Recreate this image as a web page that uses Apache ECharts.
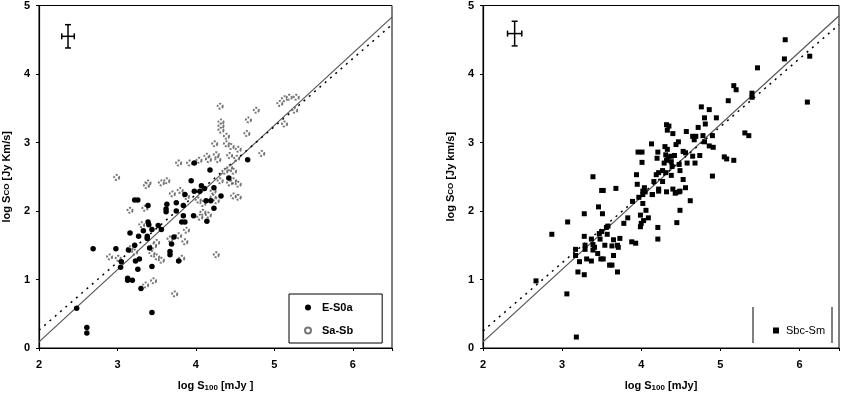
<!DOCTYPE html>
<html><head><meta charset="utf-8">
<script src="https://cdn.jsdelivr.net/npm/echarts@6/dist/echarts.min.js"></script>
<style>html,body{margin:0;padding:0;background:#fff}#c{width:844px;height:397px}</style>
</head><body><div id="c"></div>
<script>
// ---- data ----
const xTicks = [2, 3, 4, 5, 6];
const yTicks = [0, 1, 2, 3, 4, 5];
const eS0a = [[2.61,0.30],[2.61,0.22],[2.48,0.58],[2.69,1.45],[2.98,1.45],[3.05,1.26],[3.04,1.18],[3.14,1.43],[3.16,1.68],[3.22,2.16],[3.26,2.16],[3.13,1.02],[3.13,0.99],[3.19,0.99],[3.22,1.50],[3.23,1.27],[3.26,1.15],[3.28,1.30],[3.27,1.63],[3.30,0.87],[3.33,1.71],[3.39,2.08],[3.39,1.84],[3.40,1.80],[3.38,1.63],[3.38,1.60],[3.41,1.46],[3.44,1.73],[3.44,1.19],[3.44,0.52],[3.52,1.79],[3.56,1.73],[3.63,2.10],[3.62,2.03],[3.62,1.99],[3.67,1.41],[3.67,1.36],[3.69,1.52],[3.72,1.62],[3.75,2.00],[3.75,2.12],[3.78,1.27],[3.82,1.84],[3.84,2.08],[3.86,2.24],[3.86,1.84],[3.84,1.93],[3.97,1.93],[4.13,2.15],[4.19,2.15],[4.14,1.85],[4.23,2.04],[4.32,2.22],[3.98,2.29],[4.05,2.29],[4.66,2.75],[3.98,2.70],[4.18,2.60],[3.94,2.44],[4.07,2.37],[4.11,2.33],[4.42,2.48],[4.23,2.34]];
const saSb = [[4.31,3.53],[4.32,3.30],[4.32,3.24],[4.32,3.18],[4.39,3.09],[4.24,2.98],[4.39,2.98],[4.45,2.94],[4.54,2.90],[4.43,2.81],[4.52,2.77],[4.26,2.82],[4.28,2.75],[4.14,2.80],[4.16,2.75],[4.04,2.74],[3.92,2.70],[3.78,2.70],[4.65,3.13],[4.67,3.33],[4.77,3.47],[4.84,2.84],[5.07,3.57],[5.13,3.64],[5.19,3.66],[5.28,3.66],[5.26,3.47],[5.13,3.27],[2.99,2.49],[3.39,2.41],[3.37,2.37],[3.56,2.41],[3.63,2.44],[4.37,2.58],[4.43,2.63],[4.48,2.58],[4.43,2.41],[4.48,2.44],[4.54,2.39],[4.31,2.44],[4.22,2.29],[4.48,2.22],[4.54,2.20],[4.26,1.36],[3.73,0.79],[3.46,0.98],[3.36,0.92],[3.16,2.01],[3.35,2.04],[3.31,1.80],[3.16,1.45],[3.22,1.40],[2.90,1.33],[3.01,1.31],[3.50,1.54],[3.46,1.49],[3.44,1.38],[3.50,1.33],[3.56,1.28],[3.78,1.64],[3.86,1.55],[3.67,1.59],[3.82,1.31],[3.88,1.72],[4.05,1.91],[4.09,1.98],[4.16,1.94],[4.09,2.11],[4.03,2.16],[4.22,2.20],[4.26,2.15],[3.88,2.21],[3.80,2.30],[3.70,2.25]];
const sbcSm = [[5.82,4.50],[5.81,4.22],[6.13,4.26],[6.10,3.59],[5.47,4.09],[5.40,3.72],[5.40,3.66],[5.17,3.83],[5.20,3.77],[5.10,3.61],[4.95,3.36],[4.76,3.52],[4.86,3.48],[4.80,3.36],[4.81,3.27],[4.72,3.22],[4.57,3.16],[4.32,3.26],[4.35,3.24],[4.33,3.18],[4.40,3.13],[4.47,3.01],[4.44,2.97],[4.65,3.09],[4.67,3.04],[4.69,3.09],[4.78,3.10],[4.90,3.10],[4.80,3.01],[4.86,2.95],[4.91,2.93],[4.90,2.51],[5.31,3.14],[5.36,3.10],[5.05,2.79],[5.08,2.76],[5.17,2.74],[4.13,2.98],[3.96,2.86],[4.01,2.86],[4.01,2.71],[3.94,2.53],[3.95,2.39],[4.04,2.34],[4.02,2.29],[4.05,2.28],[4.14,2.24],[4.21,2.86],[4.20,2.77],[4.30,2.94],[4.33,2.90],[4.31,2.82],[4.34,2.79],[4.32,2.74],[4.29,2.70],[4.38,2.80],[4.42,2.81],[4.38,2.72],[4.39,2.65],[4.53,2.87],[4.56,2.85],[4.58,2.70],[4.48,2.68],[4.49,2.59],[4.68,2.70],[4.65,2.80],[4.74,2.81],[4.27,2.59],[4.31,2.56],[4.22,2.56],[4.19,2.53],[4.16,2.43],[4.27,2.43],[4.38,2.52],[4.53,2.46],[4.22,2.29],[4.40,2.32],[4.44,2.27],[4.49,2.29],[4.56,2.34],[3.39,2.50],[3.52,2.30],[3.68,2.33],[3.50,2.30],[3.46,2.06],[3.28,1.96],[3.51,1.96],[3.07,1.84],[2.87,1.66],[3.28,1.63],[3.37,1.59],[3.48,1.59],[3.47,1.67],[3.50,1.70],[3.56,1.76],[3.58,1.78],[3.57,1.66],[3.65,1.58],[3.73,1.60],[3.63,1.49],[3.70,1.50],[3.71,1.47],[3.54,1.50],[3.39,1.51],[3.41,1.47],[3.39,1.43],[3.29,1.50],[3.29,1.44],[3.17,1.44],[3.17,1.35],[3.22,1.26],[3.31,1.30],[3.37,1.27],[3.45,1.38],[3.49,1.30],[3.52,1.30],[3.65,1.35],[3.60,1.21],[3.63,1.21],[3.70,1.11],[3.20,1.11],[3.28,1.07],[2.67,0.98],[3.06,0.79],[3.18,0.16],[3.78,1.82],[3.83,1.90],[3.89,2.14],[3.88,1.55],[3.93,1.53],[3.99,1.94],[4.00,1.82],[3.99,1.77],[4.03,1.86],[4.06,2.01],[4.09,1.90],[4.02,2.11],[3.97,2.20],[4.02,2.24],[4.14,2.24],[4.22,2.32],[4.21,1.76],[4.21,1.59],[4.32,2.28],[4.43,2.26],[4.48,2.28],[4.49,2.01],[4.45,1.83],[4.62,2.15]];
const fitSolidLeft = [[2, 0.09], [6.5, 4.83]];
const fitDotLeft = [[2, 0.26], [6.5, 4.72]];
const fitSolidRight = [[2, 0.09], [6.5, 4.85]];
const fitDotRight = [[2, 0.25], [6.5, 4.72]];
const errLeft = [[2.37, 4.55, 0.08, 0.17]];
const errRight = [[2.40, 4.59, 0.09, 0.18]];

// ---- chart ----
const chart = echarts.init(document.getElementById('c'), null, {renderer: 'canvas'});
const FONT = 'Liberation Sans, Arial, sans-serif';
function xAx(gi, nameRich) {
  return {
    gridIndex: gi, type: 'value', min: 2, max: 6.5, interval: 1,
    splitLine: {show: false},
    axisLine: {show: true, onZero: false, lineStyle: {color: '#000', width: 1.2}},
    axisTick: {show: true, length: 3, lineStyle: {color: '#000'}},
    axisLabel: {color: '#000', fontFamily: FONT, fontWeight: 'bold', fontSize: 11, margin: 11,
      formatter: v => xTicks.includes(v) ? String(v) : ''},
    name: nameRich, nameLocation: 'middle', nameGap: 32,
    nameTextStyle: {color: '#000', fontFamily: FONT, fontWeight: 'bold', fontSize: 11,
      rich: {s: {fontSize: 8, fontWeight: 'bold', fontFamily: FONT, verticalAlign: 'bottom', padding: [4, 0, 0, 0]}}}
  };
}
function yAx(gi, nameRich) {
  return {
    gridIndex: gi, type: 'value', min: 0, max: 5, interval: 1,
    splitLine: {show: false},
    axisLine: {show: true, onZero: false, lineStyle: {color: '#000', width: 1.2}},
    axisTick: {show: true, length: 3, lineStyle: {color: '#000'}},
    axisLabel: {color: '#000', fontFamily: FONT, fontWeight: 'bold', fontSize: 11, margin: 9,
      formatter: v => yTicks.includes(v) ? String(v) : ''},
    name: nameRich, nameLocation: 'middle', nameGap: 27, nameRotate: 90,
    nameTextStyle: {color: '#000', fontFamily: FONT, fontWeight: 'bold', fontSize: 11,
      rich: {s: {fontSize: 8, fontWeight: 'bold', fontFamily: FONT}}}
  };
}
function errSeries(xi, data) {
  return {
    type: 'custom', xAxisIndex: xi, yAxisIndex: xi, data: data, silent: true,
    renderItem: function (params, api) {
      const x = api.value(0), y = api.value(1), dx = api.value(2), dy = api.value(3);
      const c = api.coord([x, y]);
      const l = api.coord([x - dx, y]), r = api.coord([x + dx, y]);
      const t = api.coord([x, y + dy]), b = api.coord([x, y - dy]);
      const st = {stroke: '#000', lineWidth: 1.5};
      const cap = 3;
      return {type: 'group', children: [
        {type: 'line', shape: {x1: l[0], y1: c[1], x2: r[0], y2: c[1]}, style: st},
        {type: 'line', shape: {x1: c[0], y1: t[1], x2: c[0], y2: b[1]}, style: st},
        {type: 'line', shape: {x1: l[0], y1: c[1] - cap, x2: l[0], y2: c[1] + cap}, style: st},
        {type: 'line', shape: {x1: r[0], y1: c[1] - cap, x2: r[0], y2: c[1] + cap}, style: st},
        {type: 'line', shape: {x1: c[0] - cap, y1: t[1], x2: c[0] + cap, y2: t[1]}, style: st},
        {type: 'line', shape: {x1: c[0] - cap, y1: b[1], x2: c[0] + cap, y2: b[1]}, style: st}
      ]};
    }
  };
}
function fitLine(xi, data, dotted) {
  return {
    type: 'line', xAxisIndex: xi, yAxisIndex: xi, data: data, symbol: 'none', silent: true,
    lineStyle: dotted ? {color: '#000', width: 1.5, type: [2, 5]} : {color: '#555', width: 1.2},
    z: 1
  };
}
const option = {
  backgroundColor: '#fff',
  animation: false,
  grid: [
    {left: 39, right: 452, top: 4, bottom: 46, show: true, borderColor: '#000', borderWidth: 1},
    {left: 483, right: 5, top: 5, bottom: 45, show: true, borderColor: '#000', borderWidth: 1}
  ],
  xAxis: [xAx(0, 'log S{s|100} [mJy ]'), xAx(1, 'log S{s|100} [mJy]')],
  yAxis: [yAx(0, 'log S{s|CO} [Jy Km/s]'), yAx(1, 'log S{s|CO} [Jy km/s]')],
  legend: [
    {data: [{name: 'E-S0a', icon: 'circle'}, {name: 'Sa-Sb', icon: 'emptyCircle'}],
      orient: 'vertical', left: 289, top: 294, width: 93,
      itemWidth: 6, itemHeight: 6, itemGap: 12,
      padding: [8, 29, 7, 15], borderColor: '#000', borderWidth: 1,
      textStyle: {color: '#000', fontFamily: FONT, fontWeight: 'bold', fontSize: 11, padding: [0, 0, 0, 6]}},
    {data: [{name: 'Sbc-Sm', icon: 'rect'}],
      orient: 'vertical', left: 768, top: 320,
      itemWidth: 6, itemHeight: 6,
      textStyle: {color: '#000', fontFamily: FONT, fontSize: 11, padding: [0, 0, 0, 2]}}
  ],
  graphic: [
    {type: 'line', shape: {x1: 753, y1: 307, x2: 753, y2: 343}, style: {stroke: '#000', lineWidth: 1}},
    {type: 'line', shape: {x1: 832, y1: 307, x2: 832, y2: 343}, style: {stroke: '#000', lineWidth: 1}}
  ],
  series: [
    fitLine(0, fitSolidLeft, false), fitLine(0, fitDotLeft, true),
    fitLine(1, fitSolidRight, false), fitLine(1, fitDotRight, true),
    {name: 'Sa-Sb', type: 'scatter', xAxisIndex: 0, yAxisIndex: 0, data: saSb,
      symbol: 'emptyCircle', symbolSize: 5,
      itemStyle: {color: '#555', borderColor: '#555', borderWidth: 1, borderType: [2, 1.5]}, z: 3},
    {name: 'E-S0a', type: 'scatter', xAxisIndex: 0, yAxisIndex: 0, data: eS0a,
      symbol: 'circle', symbolSize: 5.5, itemStyle: {color: '#000', opacity: 1}, z: 4},
    {name: 'Sbc-Sm', type: 'scatter', xAxisIndex: 1, yAxisIndex: 1, data: sbcSm,
      symbol: 'rect', symbolSize: 5, itemStyle: {color: '#000', opacity: 1}, z: 4},
    errSeries(0, errLeft), errSeries(1, errRight)
  ]
};
chart.setOption(option);
</script></body></html>
